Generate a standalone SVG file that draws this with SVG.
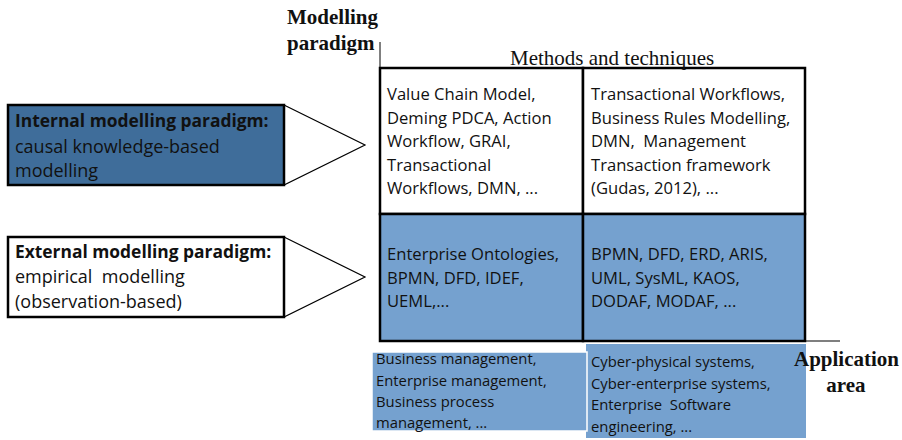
<svg xmlns="http://www.w3.org/2000/svg" width="902" height="440" viewBox="0 0 902 440">
<style>
.s{font-family:"Open Sans","Noto Sans",sans-serif;fill:#111;white-space:pre}
.c{font-size:16.6px}
.l{font-size:18px}
.lb{font-size:17.4px;font-weight:bold}
.b{font-size:14.8px}
.bold{font-weight:bold}
.ser{font-family:"Liberation Serif","Times New Roman",serif;fill:#111;font-size:21px}
.cell{stroke:#000;stroke-width:2.5}
.lt{fill:#75A1CF}
</style>
<rect width="902" height="440" fill="#fff"/>
<g id="axes" stroke="#000" fill="none">
<line x1="380" y1="42" x2="380" y2="68" stroke-width="1"/>
<line x1="380" y1="341" x2="840" y2="341" stroke-width="1.2"/>
</g>
<g id="internal">
<polygon points="284,105 365,145 284,185" fill="#fff" stroke="#000" stroke-width="1.2"/>
<rect x="8" y="105" width="276" height="80" fill="#3F6D9A" stroke="#000" stroke-width="2.5"/>
<text class="s lb" x="15" y="127">Internal modelling paradigm:</text>
<text class="s l" x="15" y="153">causal knowledge-based</text>
<text class="s l" x="15" y="177">modelling</text>
</g>
<g id="external">
<polygon points="284,237 365,277 284,317" fill="#fff" stroke="#000" stroke-width="1.2"/>
<rect x="8" y="237" width="276" height="80" fill="#fff" stroke="#000" stroke-width="2.5"/>
<text class="s lb" x="15" y="258">External modelling paradigm:</text>
<text class="s l" x="15" y="283">empirical  modelling</text>
<text class="s l" x="15" y="308">(observation-based)</text>
</g>
<g id="cell-internal-business">
<rect class="cell" x="380" y="68" width="203" height="146" fill="#fff"/>
<text class="s c" x="387" y="100">Value Chain Model,</text>
<text class="s c" x="387" y="123.5">Deming PDCA, Action</text>
<text class="s c" x="387" y="147">Workflow, GRAI,</text>
<text class="s c" x="387" y="170.5">Transactional</text>
<text class="s c" x="387" y="194">Workflows, DMN, ...</text>
</g>
<g id="cell-internal-cyber">
<rect class="cell" x="583" y="68" width="222" height="146" fill="#fff"/>
<text class="s c" x="591" y="100">Transactional Workflows,</text>
<text class="s c" x="591" y="123.5">Business Rules Modelling,</text>
<text class="s c" x="591" y="147">DMN,  Management</text>
<text class="s c" x="591" y="170.5">Transaction framework</text>
<text class="s c" x="591" y="194">(Gudas, 2012), ...</text>
</g>
<g id="cell-external-business">
<rect class="cell lt" x="380" y="214" width="203" height="127"/>
<text class="s c" x="387" y="260">Enterprise Ontologies,</text>
<text class="s c" x="387" y="284">BPMN, DFD, IDEF,</text>
<text class="s c" x="387" y="307">UEML,...</text>
</g>
<g id="cell-external-cyber">
<rect class="cell lt" x="583" y="214" width="222" height="127"/>
<text class="s c" x="591" y="260">BPMN, DFD, ERD, ARIS,</text>
<text class="s c" x="591" y="284">UML, SysML, KAOS,</text>
<text class="s c" x="591" y="307">DODAF, MODAF, ...</text>
</g>
<g id="area-cyber">
<rect class="lt" x="586" y="344" width="220" height="94"/>
<text class="s b" x="591" y="367">Cyber-physical systems,</text>
<text class="s b" x="591" y="389">Cyber-enterprise systems,</text>
<text class="s b" x="591" y="410">Enterprise  Software</text>
<text class="s b" x="591" y="432">engineering, ...</text>
</g>
<g id="area-business">
<rect class="lt" x="372" y="352" width="215" height="79" stroke="#fff" stroke-width="1.5"/>
<text class="s b" x="376" y="364">Business management,</text>
<text class="s b" x="376" y="386">Enterprise management,</text>
<text class="s b" x="376" y="407">Business process</text>
<text class="s b" x="376" y="428">management, ...</text>
</g>
<g id="titles">
<text class="ser bold" x="287" y="24">Modelling</text>
<text class="ser bold" x="287" y="50">paradigm</text>
<text class="ser" x="510" y="65">Methods and techniques</text>
<text class="ser bold" x="794" y="366">Application</text>
<text class="ser bold" x="846" y="392" text-anchor="middle">area</text>
</g>
</svg>
